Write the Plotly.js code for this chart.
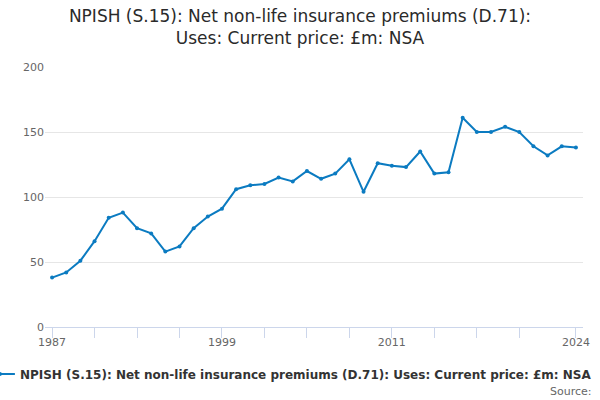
<!DOCTYPE html>
<html>
<head>
<meta charset="utf-8">
<script src="https://cdn.plot.ly/plotly-3.0.1.min.js"></script>
<style>html,body{margin:0;padding:0;background:#fff;}#chart{width:600px;height:400px;}</style>
</head>
<body>
<div id="chart"></div>
<script>
var years = [1987,1988,1989,1990,1991,1992,1993,1994,1995,1996,1997,1998,1999,2000,2001,2002,2003,2004,2005,2006,2007,2008,2009,2010,2011,2012,2013,2014,2015,2016,2017,2018,2019,2020,2021,2022,2023,2024];
var values = [38,42,51,66,84,88,76,72,58,62,76,85,91,106,109,110,115,112,120,114,118,129,104,126,124,123,135,118,119,161,150,150,154,150,139,132,139,138];
var tickYears = [1987,1990,1993,1996,1999,2002,2005,2008,2011,2014,2017,2020,2024];
var tickLabels = ["1987","","","","1999","","","","2011","","","","2024"];
var seriesName = "NPISH (S.15): Net non-life insurance premiums (D.71): Uses: Current price: £m: NSA";
var chartTitle = "NPISH (S.15): Net non-life insurance premiums (D.71):<br>Uses: Current price: £m: NSA";

var trace = {
  x: years, y: values, type: 'scatter', mode: 'lines+markers',
  name: seriesName,
  line: {color: '#0b7bc1', width: 2},
  marker: {color: '#0b7bc1', size: 4}
};
var layout = {
  width: 600, height: 400,
  margin: {l: 45, r: 17, t: 67, b: 73, autoexpand: false},
  paper_bgcolor: '#fff', plot_bgcolor: '#fff',
  font: {family: 'DejaVu Sans', color: '#666'},
  title: {text: chartTitle, font: {family: 'DejaVu Sans', size: 17, color: '#2a2a2a'}, x: 0.5, xanchor: 'center', yref: 'container', y: 0.945, yanchor: 'top'},
  xaxis: {
    range: [1986.5, 2024.5], tickmode: 'array', tickvals: tickYears, ticktext: tickLabels,
    showgrid: false, zeroline: false, showline: true, linecolor: '#ccd6eb', linewidth: 1,
    ticks: 'outside', ticklen: 10, tickcolor: '#ccd6eb', ticklabelstandoff: -5, tickfont: {size: 11, color: '#666'}
  },
  yaxis: {
    range: [0, 200], tickvals: [0,50,100,150,200], showgrid: true, gridcolor: '#e6e6e6',
    zeroline: false, showline: false, ticks: '', tickfont: {size: 11, color: '#666'}
  },
  showlegend: true,
  legend: {orientation: 'h', x: -0.121, xanchor: 'left', y: -0.125, yanchor: 'top',
    font: {family: 'DejaVu Sans', size: 12, color: '#333', weight: 'bold'}, bgcolor: 'rgba(0,0,0,0)'},
  annotations: [{text: 'Source:', xref: 'paper', yref: 'paper', x: 1.02, y: -0.215, xanchor: 'right', yanchor: 'top',
    showarrow: false, font: {family: 'DejaVu Sans', size: 11, color: '#666'}}]
};
Plotly.newPlot('chart', [trace], layout, {displayModeBar: false, staticPlot: true});
</script>
</body>
</html>
